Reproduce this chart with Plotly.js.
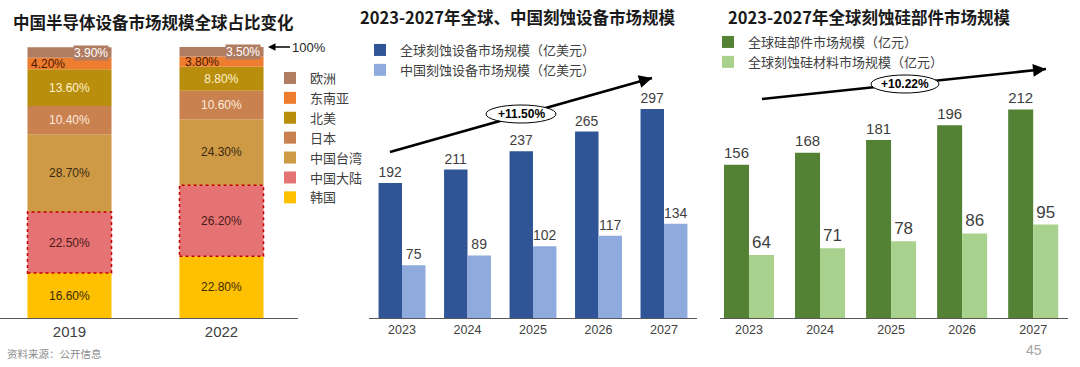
<!DOCTYPE html>
<html>
<head>
<meta charset="utf-8">
<script src="https://cdn.plot.ly/plotly-3.0.1.min.js"></script>
<style>html,body{margin:0;padding:0;background:#fff;}#chart{width:1080px;height:367px;}</style>
</head>
<body>
<div id="chart"></div>
<script>
// ---------- Data ----------
const shareYears = ['2019', '2022'];
const korea = [16.6, 22.8];
const mainland = [22.5, 26.2];
const taiwan = [28.7, 24.3];
const japan = [10.4, 10.6];
const northAmerica = [13.6, 8.8];
const seAsia = [4.2, 3.8];
const europe = [3.9, 3.5];

const years = ['2023', '2024', '2025', '2026', '2027'];
const globalEtch = [192, 211, 237, 265, 297];
const chinaEtch = [75, 89, 102, 117, 134];
const siParts = [156, 168, 181, 196, 212];
const siMaterial = [64, 71, 78, 86, 95];
const cagrEtch = '+11.50%';
const cagrSi = '+10.22%';

// ---------- Helpers ----------
const W = 1080, H = 367;
const px = x => x / W;
const py = y => 1 - y / H;
const CJK = "'Noto Sans CJK SC', 'Noto Sans', sans-serif";
const LAT = "'Liberation Sans', Arial, sans-serif";
const pct = v => v.toFixed(2) + '%';

// ---------- Panel 1: stacked shares ----------
const stackSeries = [
  {name: '韩国', vals: korea, color: '#FFC000', txt: '#3a2a08', label: true},
  {name: '中国大陆', vals: mainland, color: '#E57373', txt: '#4a1a1a', label: true},
  {name: '中国台湾', vals: taiwan, color: '#CF9A45', txt: '#3a2a10', label: true},
  {name: '日本', vals: japan, color: '#C98150', txt: '#FCE9DC', label: true},
  {name: '北美', vals: northAmerica, color: '#B88E0C', txt: '#FFF2CC', label: true},
  {name: '东南亚', vals: seAsia, color: '#EE7D2F', txt: '#4d1800', label: false},
  {name: '欧洲', vals: europe, color: '#B07C62', txt: '#FFFFFF', label: false}
];
const W1 = 0.553;
const cum = [0, 0];
const traces = [];
const bases = {};
stackSeries.forEach(s => {
  const base = cum.slice();
  bases[s.name] = base;
  traces.push({
    type: 'bar', x: shareYears, y: s.vals, base: base, name: s.name,
    xaxis: 'x', yaxis: 'y', width: W1, legend: 'legend',
    marker: {color: s.color, line: {width: 0}},
    text: s.label ? s.vals.map(pct) : null,
    textposition: s.label ? 'inside' : 'none',
    insidetextanchor: 'middle', textangle: 0,
    textfont: {family: LAT, size: 12, color: s.txt},
    hoverinfo: 'skip'
  });
  s.vals.forEach((v, i) => cum[i] += v);
});

// ---------- Panel 2 & 3: grouped bars ----------
const W2 = 0.358, W3 = 0.352;
traces.push({
  type: 'bar', x: years, y: globalEtch, name: '全球刻蚀设备市场规模（亿美元）',
  xaxis: 'x2', yaxis: 'y2', width: W2, offset: -W2, legend: 'legend2',
  marker: {color: '#2F5597'}, text: globalEtch.map(String), textposition: 'outside', cliponaxis: false,
  textfont: {family: LAT, size: 14, color: '#404040'}, hoverinfo: 'skip'
});
traces.push({
  type: 'bar', x: years, y: chinaEtch, name: '中国刻蚀设备市场规模（亿美元）',
  xaxis: 'x2', yaxis: 'y2', width: W2, offset: 0, legend: 'legend2',
  marker: {color: '#8FAADC'}, text: chinaEtch.map(String), textposition: 'outside', cliponaxis: false,
  textfont: {family: LAT, size: 14, color: '#404040'}, hoverinfo: 'skip'
});
traces.push({
  type: 'bar', x: years, y: siParts, name: '全球硅部件市场规模（亿元）',
  xaxis: 'x3', yaxis: 'y3', width: W3, offset: -W3, legend: 'legend3',
  marker: {color: '#548235'}, text: siParts.map(String), textposition: 'outside', cliponaxis: false,
  textfont: {family: LAT, size: 17, color: '#404040'}, hoverinfo: 'skip'
});
traces.push({
  type: 'bar', x: years, y: siMaterial, name: '全球刻蚀硅材料市场规模（亿元）',
  xaxis: 'x3', yaxis: 'y3', width: W3, offset: 0, legend: 'legend3',
  marker: {color: '#A9D18E'}, text: siMaterial.map(String), textposition: 'outside', cliponaxis: false,
  textfont: {family: LAT, size: 17, color: '#404040'}, hoverinfo: 'skip'
});

// ---------- Shapes ----------
const shapes = [];
// dotted outline around 中国大陆 segments
mainland.forEach((v, i) => {
  const b = bases['中国大陆'][i];
  shapes.push({type: 'rect', xref: 'x', yref: 'y', x0: i - W1 / 2, x1: i + W1 / 2, y0: b, y1: b + v,
    line: {color: '#C00000', width: 1.5, dash: 'dot'}, fillcolor: 'rgba(0,0,0,0)'});
});

const annotations = [];
function trendArrow(t, h, c, ew, eh, label) {
  shapes.push({type: 'line', xref: 'paper', yref: 'paper', x0: px(t[0]), y0: py(t[1]), x1: px(h[0]), y1: py(h[1]),
    line: {color: '#000', width: 2.6}});
  shapes.push({type: 'circle', xref: 'paper', yref: 'paper', x0: px(c[0] - ew / 2), x1: px(c[0] + ew / 2),
    y0: py(c[1] + eh / 2), y1: py(c[1] - eh / 2), fillcolor: '#fff', line: {color: '#000', width: 1}});
  const dx = t[0] - h[0], dy = t[1] - h[1], L = Math.hypot(dx, dy);
  annotations.push({xref: 'paper', yref: 'paper', x: px(h[0]), y: py(h[1]), ax: dx / L * 14, ay: dy / L * 14,
    text: '', showarrow: true, arrowhead: 2, arrowsize: 1, arrowwidth: 2.6, arrowcolor: '#000'});
  annotations.push({xref: 'paper', yref: 'paper', x: px(c[0]), y: py(c[1]), text: '<b>' + label + '</b>',
    showarrow: false, font: {family: LAT, size: 12, color: '#000'}, xanchor: 'center', yanchor: 'middle'});
}
trendArrow([390, 152], [652, 78], [521, 114], 70, 18, cagrEtch);
trendArrow([762, 99], [1046, 69], [905, 84], 68, 18, cagrSi);

// small-segment labels in panel 1
const smallLabels = [
  {vals: europe, key: '欧洲', dx: [21, 21], bg: '#B07C62', color: '#FFFFFF'},
  {vals: seAsia, key: '东南亚', dx: [-22, -20], bg: 'rgba(0,0,0,0)', color: '#4d1800'}
];
smallLabels.forEach(s => {
  s.vals.forEach((v, i) => {
    annotations.push({xref: 'x', yref: 'y', x: i, y: bases[s.key][i] + v / 2, xshift: s.dx[i],
      text: pct(v), showarrow: false, bgcolor: s.bg, borderpad: 0,
      font: {family: LAT, size: 12, color: s.color}, xanchor: 'center', yanchor: 'middle'});
  });
});

// titles and notes
annotations.push({xref: 'paper', yref: 'paper', x: px(11), y: py(22), xanchor: 'left', yanchor: 'middle', showarrow: false,
  text: '<b>中国半导体设备市场规模全球占比变化</b>', font: {family: CJK, size: 16.5, color: '#1a1a1a'}});
annotations.push({xref: 'paper', yref: 'paper', x: px(358), y: py(17), xanchor: 'left', yanchor: 'middle', showarrow: false,
  text: '<b>2023-2027年全球、中国刻蚀设备市场规模</b>', font: {family: CJK, size: 16.5, color: '#1a1a1a'}});
annotations.push({xref: 'paper', yref: 'paper', x: px(726), y: py(17), xanchor: 'left', yanchor: 'middle', showarrow: false,
  text: '<b>2023-2027年全球刻蚀硅部件市场规模</b>', font: {family: CJK, size: 16.5, color: '#1a1a1a'}});
annotations.push({xref: 'paper', yref: 'paper', x: px(5), y: py(353), xanchor: 'left', yanchor: 'middle', showarrow: false,
  text: '资料来源：公开信息', font: {family: CJK, size: 10.5, color: '#8c8c8c'}});
annotations.push({xref: 'paper', yref: 'paper', x: px(1044), y: py(350), xanchor: 'right', yanchor: 'middle', showarrow: false,
  text: '45', font: {family: LAT, size: 14, color: '#a6a6a6'}});
annotations.push({xref: 'paper', yref: 'paper', x: px(268), y: py(47), ax: 22, ay: 0, xanchor: 'left', yanchor: 'middle',
  showarrow: true, arrowhead: 2, arrowsize: 1, arrowwidth: 1.5, arrowcolor: '#000',
  text: '100%', font: {family: LAT, size: 13, color: '#262626'}});

// ---------- Layout ----------
const xCommon = {showline: true, linecolor: '#595959', linewidth: 1, ticks: '', showgrid: false, zeroline: false,
  type: 'category', fixedrange: true};
const yCommon = {visible: false, showgrid: false, zeroline: false, fixedrange: true};
const legCommon = {xanchor: 'left', yanchor: 'top', bgcolor: 'rgba(0,0,0,0)', borderwidth: 0,
  font: {family: CJK, size: 13, color: '#404040'}, itemclick: false, itemdoubleclick: false};

const layout = {
  width: W, height: H, margin: {l: 0, r: 0, t: 0, b: 0},
  paper_bgcolor: '#fff', plot_bgcolor: 'rgba(0,0,0,0)',
  barmode: 'overlay', font: {family: LAT, color: '#404040'},
  xaxis: Object.assign({}, xCommon, {domain: [px(0), px(298)], range: [-69.5 / 152, (298 - 69.5) / 152],
    tickfont: {family: LAT, size: 15, color: '#404040'}, anchor: 'y'}),
  yaxis: Object.assign({}, yCommon, {domain: [py(318), py(47)], range: [0, 100], anchor: 'x'}),
  xaxis2: Object.assign({}, xCommon, {domain: [px(369), px(697)], range: [-0.504, 4.504],
    tickfont: {family: LAT, size: 12.5, color: '#404040'}, anchor: 'y2'}),
  yaxis2: Object.assign({}, yCommon, {domain: [py(318), py(30)], range: [0, 288 / 0.7035], anchor: 'x2'}),
  xaxis3: Object.assign({}, xCommon, {domain: [px(720), px(1068)], range: [-0.408, 4.49],
    tickfont: {family: LAT, size: 12.5, color: '#404040'}, anchor: 'y3'}),
  yaxis3: Object.assign({}, yCommon, {domain: [py(318), py(30)], range: [0, 288 / 0.983], anchor: 'x3'}),
  legend: Object.assign({}, legCommon, {x: px(270), y: py(63), traceorder: 'reversed'}),
  legend2: Object.assign({}, legCommon, {x: px(360), y: py(35), traceorder: 'normal'}),
  legend3: Object.assign({}, legCommon, {x: px(708), y: py(27), traceorder: 'normal'}),
  shapes: shapes, annotations: annotations, showlegend: true
};

Plotly.newPlot('chart', traces, layout, {displayModeBar: false, staticPlot: true});
</script>
</body>
</html>
